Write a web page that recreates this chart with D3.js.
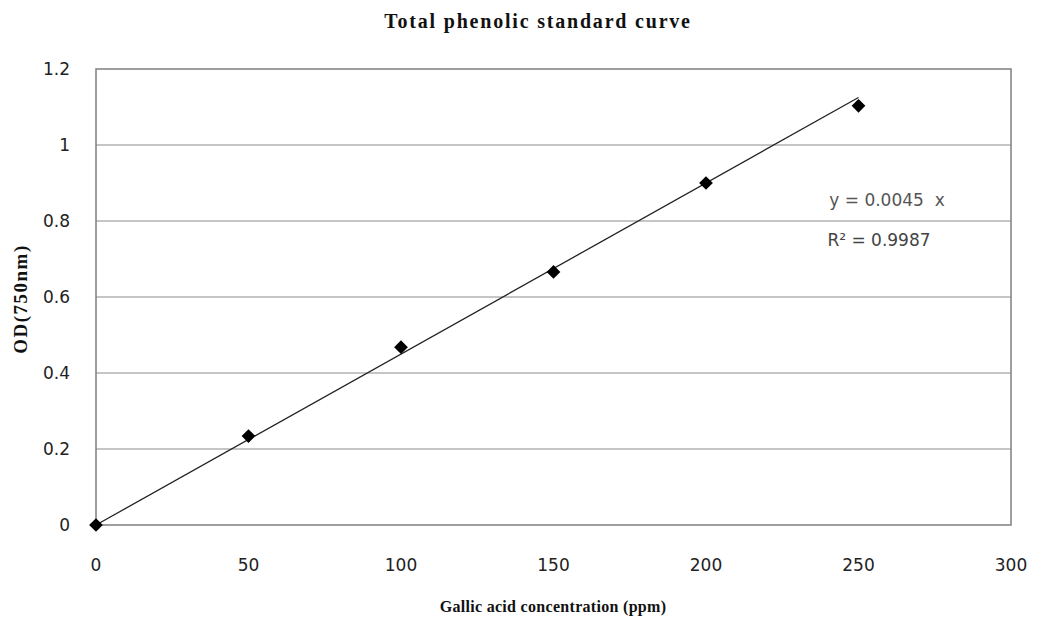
<!DOCTYPE html>
<html>
<head>
<meta charset="utf-8">
<script src="https://cdn.jsdelivr.net/npm/d3@7"></script>
<style>
  body { margin: 0; background: #fff; }
  svg { display: block; }
</style>
</head>
<body>
<svg width="1038" height="623"></svg>
<script>
// standard curve points
var concentration = [0, 50, 100, 150, 200, 250];
var od            = [0, 0.234, 0.468, 0.666, 0.9, 1.103];

var xTicks = [0, 50, 100, 150, 200, 250, 300];
var yTicks = [0, 0.2, 0.4, 0.6, 0.8, 1, 1.2];
var slope  = 0.0045;
var rSquared = "0.9987";

var svg = d3.select("svg");
var plotLeft = 96, plotRight = 1011, plotTop = 69, plotBottom = 525;

var x = d3.scaleLinear().domain([0, 300]).range([plotLeft, plotRight]);
var y = d3.scaleLinear().domain([0, 1.2]).range([plotBottom, plotTop]);

// horizontal gridlines
svg.append("g").selectAll("line").data(yTicks.slice(1, -1))
   .enter().append("line")
   .attr("x1", plotLeft).attr("x2", plotRight)
   .attr("y1", function(d){ return y(d); })
   .attr("y2", function(d){ return y(d); })
   .attr("stroke", "#8c8c8c")
   .attr("stroke-width", 1);

// plot area frame
svg.append("rect")
   .attr("x", plotLeft).attr("y", plotTop)
   .attr("width", plotRight - plotLeft).attr("height", plotBottom - plotTop)
   .attr("fill", "none")
   .attr("stroke", "#7f7f7f")
   .attr("stroke-width", 1.5);

// tick labels
svg.append("g").selectAll("text").data(yTicks)
   .enter().append("text")
   .attr("x", 70)
   .attr("y", function(d){ return y(d) + 6; })
   .attr("text-anchor", "end")
   .attr("font-family", "DejaVu Sans, Verdana, sans-serif")
   .attr("font-size", 17)
   .attr("fill", "#222")
   .text(function(d){ return d; });

svg.append("g").selectAll("text").data(xTicks)
   .enter().append("text")
   .attr("x", function(d){ return x(d); })
   .attr("y", 571)
   .attr("text-anchor", "middle")
   .attr("font-family", "DejaVu Sans, Verdana, sans-serif")
   .attr("font-size", 17)
   .attr("fill", "#222")
   .text(function(d){ return d; });

// linear trendline through origin
svg.append("line")
   .attr("x1", x(0)).attr("y1", y(0))
   .attr("x2", x(250)).attr("y2", y(slope * 250))
   .attr("stroke", "#222")
   .attr("stroke-width", 1.3);

// diamond markers
var diamond = d3.symbol().type(d3.symbolDiamond2).size(120);
svg.append("g").selectAll("path").data(concentration)
   .enter().append("path")
   .attr("d", diamond)
   .attr("transform", function(d, i){
      return "translate(" + x(d) + "," + y(od[i]) + ")";
   })
   .attr("fill", "#000");

// equation label
svg.append("text")
   .attr("x", 887).attr("y", 206)
   .attr("text-anchor", "middle")
   .attr("font-family", "DejaVu Sans, Verdana, sans-serif")
   .attr("font-size", 17)
   .attr("fill", "#555")
   .attr("xml:space", "preserve")
   .text("y = " + slope + "  x");

svg.append("text")
   .attr("x", 879).attr("y", 246)
   .attr("text-anchor", "middle")
   .attr("font-family", "DejaVu Sans, Verdana, sans-serif")
   .attr("font-size", 17)
   .attr("fill", "#444")
   .text("R² = " + rSquared);

// titles
svg.append("text")
   .attr("x", 538).attr("y", 28)
   .attr("text-anchor", "middle")
   .attr("font-family", "Liberation Serif, Times New Roman, serif")
   .attr("font-weight", "bold")
   .attr("font-size", 20)
   .attr("letter-spacing", 1.8)
   .attr("fill", "#111")
   .text("Total phenolic standard curve");

svg.append("text")
   .attr("x", 553).attr("y", 612)
   .attr("text-anchor", "middle")
   .attr("font-family", "Liberation Serif, Times New Roman, serif")
   .attr("font-weight", "bold")
   .attr("font-size", 16)
   .attr("letter-spacing", 0.3)
   .attr("fill", "#111")
   .text("Gallic acid concentration (ppm)");

svg.append("text")
   .attr("transform", "translate(27,299) rotate(-90)")
   .attr("text-anchor", "middle")
   .attr("font-family", "Liberation Serif, Times New Roman, serif")
   .attr("font-weight", "bold")
   .attr("font-size", 19)
   .attr("letter-spacing", 1.5)
   .attr("fill", "#111")
   .text("OD(750nm)");
</script>
</body>
</html>
